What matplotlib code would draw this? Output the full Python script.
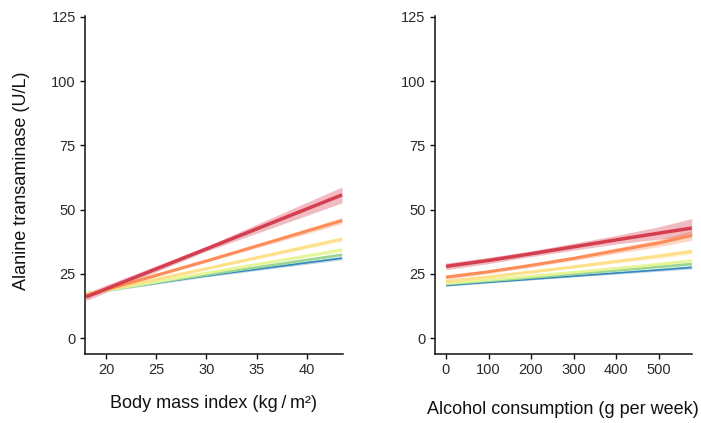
import matplotlib
matplotlib.use("Agg")
import matplotlib.pyplot as plt
import numpy as np

plt.rcParams['font.family'] = ['Liberation Sans', 'DejaVu Sans']

# ---- data ----
series_names = ["Q6", "Q5", "Q4", "Q3", "Q2", "Q1"]  # blue -> red
colors = ["#3288BD", "#99D594", "#E6F598", "#FEE08B", "#FC8D59", "#D53E4F"]
widths = [1.2, 1.8, 2.0, 2.2, 2.2, 2.5]

bmi_x = [18.0, 30.0, 43.5]
bmi_y = [
    [17.5, 24.2, 31.1],   # blue
    [17.3, 24.6, 32.4],   # green
    [17.2, 25.3, 34.3],   # light green
    [17.0, 27.0, 38.5],   # yellow
    [16.6, 30.0, 45.7],   # orange
    [16.0, 34.7, 55.7],   # red
]
bmi_lo = [
    [17.0, 23.8, 30.5],
    [16.8, 24.2, 31.7],
    [16.7, 24.9, 33.5],
    [16.4, 26.6, 37.6],
    [15.9, 29.5, 44.5],
    [14.6, 33.8, 52.6],
]
bmi_hi = [
    [18.0, 24.6, 31.7],
    [17.8, 25.0, 33.1],
    [17.7, 25.7, 35.1],
    [17.6, 27.4, 39.4],
    [17.3, 30.5, 46.9],
    [17.6, 35.7, 58.8],
]

alc_x = [0, 100, 200, 300, 400, 500, 578]
alc_y = [
    [20.5, 21.7, 22.9, 24.1, 25.3, 26.5, 27.5],
    [21.0, 22.2, 23.5, 24.9, 26.3, 27.7, 28.8],
    [21.3, 22.7, 24.1, 25.6, 27.1, 28.7, 30.0],
    [22.0, 23.8, 25.7, 27.7, 29.8, 31.9, 33.7],
    [23.7, 25.8, 28.3, 31.0, 34.0, 37.0, 39.9],
    [27.9, 30.2, 32.8, 35.5, 38.2, 40.8, 42.8],
]
alc_lo = [
    [20.1, 21.4, 22.6, 23.8, 24.9, 26.0, 26.9],
    [20.6, 21.9, 23.2, 24.5, 25.8, 27.1, 28.0],
    [20.9, 22.4, 23.8, 25.2, 26.6, 28.0, 29.1],
    [21.5, 23.4, 25.3, 27.2, 29.1, 31.0, 32.6],
    [22.9, 25.1, 27.6, 30.2, 32.9, 35.6, 38.0],
    [26.6, 29.0, 31.7, 34.2, 36.6, 38.5, 39.5],
]
alc_hi = [
    [20.9, 22.0, 23.2, 24.4, 25.7, 27.0, 28.1],
    [21.4, 22.5, 23.8, 25.3, 26.8, 28.3, 29.6],
    [21.7, 23.0, 24.4, 26.0, 27.6, 29.4, 30.9],
    [22.5, 24.2, 26.1, 28.2, 30.5, 32.8, 34.8],
    [24.5, 26.5, 29.0, 31.8, 35.1, 38.4, 41.8],
    [29.2, 31.4, 33.9, 36.9, 39.9, 43.3, 46.5],
]

yticks = [0, 25, 50, 75, 100, 125]
bmi_ticks = [20, 25, 30, 35, 40]
alc_ticks = [0, 100, 200, 300, 400, 500]

W, H = 701, 423
fig = plt.figure(figsize=(W / 100, H / 100), dpi=100)

def frac(x0, x1, ytop, ybot):
    return [x0 / W, 1 - ybot / H, (x1 - x0) / W, (ybot - ytop) / H]

ax1 = fig.add_axes(frac(85, 343, 15.5, 353.5))
ax2 = fig.add_axes(frac(434.5, 692, 15.5, 353.5))

def style(ax, xticks, xlim):
    ax.set_ylim(-6.0, 125.5)
    ax.set_xlim(*xlim)
    ax.set_yticks(yticks)
    ax.set_xticks(xticks)
    for s in ["top", "right"]:
        ax.spines[s].set_visible(False)
    for s in ["left", "bottom"]:
        ax.spines[s].set_linewidth(1.1)
        ax.spines[s].set_color("#111111")
    ax.tick_params(axis="both", length=3.5, width=1.0, color="#111111",
                   labelsize=10.5, labelcolor="#2a2a2a", pad=3)

for i in range(6):
    ax1.fill_between(bmi_x, bmi_lo[i], bmi_hi[i], color=colors[i], alpha=0.35, lw=0)
    ax1.plot(bmi_x, bmi_y[i], color=colors[i], lw=widths[i], solid_capstyle="butt")
    ax2.fill_between(alc_x, alc_lo[i], alc_hi[i], color=colors[i], alpha=0.35, lw=0)
    ax2.plot(alc_x, alc_y[i], color=colors[i], lw=widths[i], solid_capstyle="butt")

style(ax1, bmi_ticks, (17.9, 43.6))
style(ax2, alc_ticks, (-27, 578.5))

ax1.set_ylabel("Alanine transaminase (U/L)", fontsize=13, color="#111111")
ax1.yaxis.set_label_coords(-0.212, 0.51)
ax1.set_xlabel("Body mass index (kg\u2009/\u2009m²)", fontsize=13, color="#111111")
ax1.xaxis.set_label_coords(0.5, -0.124)
ax2.set_xlabel("Alcohol consumption (g per week)", fontsize=13, color="#111111")
ax2.xaxis.set_label_coords(0.5, -0.142)

fig.savefig("out.png", dpi=100)
